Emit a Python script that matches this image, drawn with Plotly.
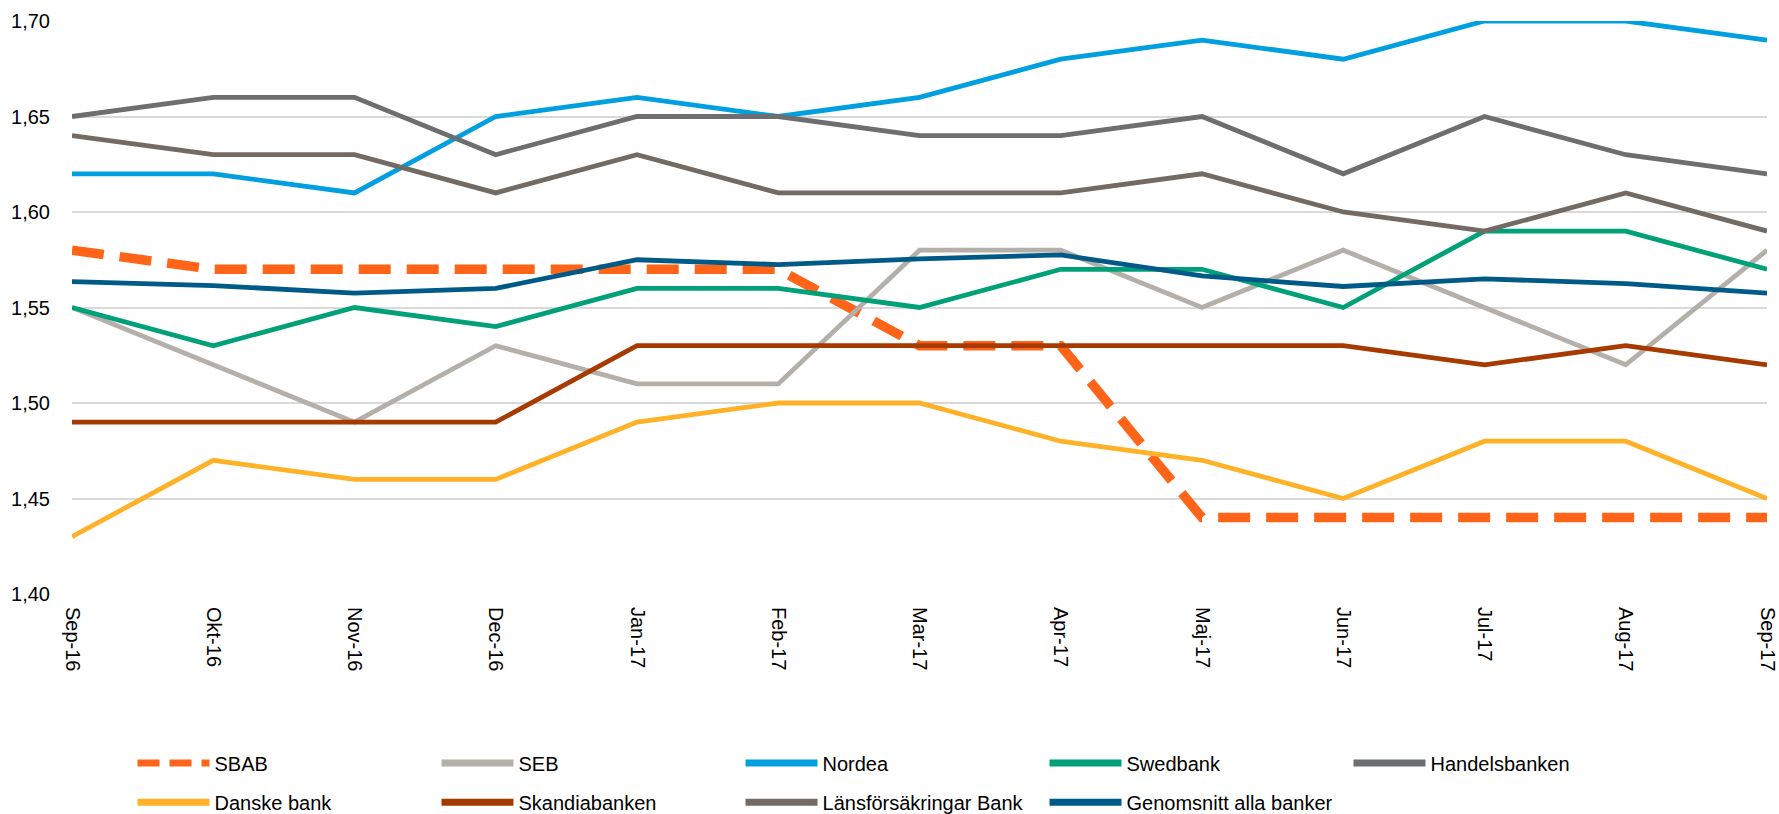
import plotly.graph_objects as go

months = ["Sep-16", "Okt-16", "Nov-16", "Dec-16", "Jan-17", "Feb-17", "Mar-17",
          "Apr-17", "Maj-17", "Jun-17", "Jul-17", "Aug-17", "Sep-17"]

sbab = [1.58, 1.57, 1.57, 1.57, 1.57, 1.57, 1.53, 1.53, 1.44, 1.44, 1.44, 1.44, 1.44]
seb = [1.55, 1.52, 1.49, 1.53, 1.51, 1.51, 1.58, 1.58, 1.55, 1.58, 1.55, 1.52, 1.58]
nordea = [1.62, 1.62, 1.61, 1.65, 1.66, 1.65, 1.66, 1.68, 1.69, 1.68, 1.70, 1.70, 1.69]
swedbank = [1.55, 1.53, 1.55, 1.54, 1.56, 1.56, 1.55, 1.57, 1.57, 1.55, 1.59, 1.59, 1.57]
handelsbanken = [1.65, 1.66, 1.66, 1.63, 1.65, 1.65, 1.64, 1.64, 1.65, 1.62, 1.65, 1.63, 1.62]
danske = [1.43, 1.47, 1.46, 1.46, 1.49, 1.50, 1.50, 1.48, 1.47, 1.45, 1.48, 1.48, 1.45]
skandia = [1.49, 1.49, 1.49, 1.49, 1.53, 1.53, 1.53, 1.53, 1.53, 1.53, 1.52, 1.53, 1.52]
lansforsakringar = [1.64, 1.63, 1.63, 1.61, 1.63, 1.61, 1.61, 1.61, 1.62, 1.60, 1.59, 1.61, 1.59]
genomsnitt = [1.5635, 1.5615, 1.5575, 1.560, 1.575, 1.5725, 1.5755, 1.5775, 1.5665,
              1.561, 1.565, 1.5625, 1.5575]

y_ticks = [1.40, 1.45, 1.50, 1.55, 1.60, 1.65, 1.70]

# name, values, colour, plot width, plot dash, legend dash, legend row
series = [
    ("SBAB", sbab, "#FF6418", 9.5, "32px,16px", "22px,10px", "legend"),
    ("SEB", seb, "#B5AFA9", 4.8, "solid", "solid", "legend"),
    ("Nordea", nordea, "#009FDF", 4.8, "solid", "solid", "legend"),
    ("Swedbank", swedbank, "#00A078", 4.8, "solid", "solid", "legend"),
    ("Handelsbanken", handelsbanken, "#6D6E70", 4.8, "solid", "solid", "legend"),
    ("Danske bank", danske, "#FFB128", 4.8, "solid", "solid", "legend2"),
    ("Skandiabanken", skandia, "#A63A00", 4.8, "solid", "solid", "legend2"),
    ("Länsförsäkringar Bank", lansforsakringar, "#736A64", 4.8, "solid", "solid", "legend2"),
    ("Genomsnitt alla banker", genomsnitt, "#005A87", 4.8, "solid", "solid", "legend2"),
]

FONT = "Liberation Sans, Arial, sans-serif"

fig = go.Figure()
for name, vals, color, w, dash, ldash, leg in series:
    fig.add_trace(go.Scatter(
        x=months, y=vals, name=name, mode="lines",
        line=dict(color=color, width=w, dash=dash),
        cliponaxis=False, showlegend=False, hoverinfo="x+y+name",
    ))
# legend entries (thicker key lines, as in the original legend)
for name, vals, color, w, dash, ldash, leg in series:
    fig.add_trace(go.Scatter(
        x=[None], y=[None], name=name, mode="lines",
        line=dict(color=color, width=7, dash=ldash),
        showlegend=True, legend=leg, hoverinfo="skip",
    ))

legend_common = dict(
    orientation="h", xanchor="left", yanchor="middle",
    entrywidth=217, entrywidthmode="pixels", itemwidth=72,
    font=dict(family=FONT, size=20, color="#000000"),
    tracegroupgap=0, bgcolor="rgba(0,0,0,0)",
)

fig.update_layout(
    width=1779, height=814,
    margin=dict(l=72, r=12, t=21, b=220, autoexpand=False),
    paper_bgcolor="white", plot_bgcolor="white",
    separators=",.",
    font=dict(family=FONT, size=20, color="#000000"),
    showlegend=True,
    legend=dict(x=0.0357, y=-0.2948, **legend_common),
    legend2=dict(x=0.0357, y=-0.3633, **legend_common),
    xaxis=dict(
        type="category", range=[0, 12], showgrid=False, zeroline=False,
        showline=False, ticks="", tickangle=90, automargin=False,
        ticklabelstandoff=12,
        tickfont=dict(family=FONT, size=20, color="#000000"),
    ),
    yaxis=dict(
        range=[1.40, 1.70], tickvals=y_ticks, tickformat=".2f",
        showgrid=True, gridcolor="#D9D9D9", gridwidth=1.5, automargin=False,
        zeroline=False, showline=False, ticks="", ticklabelstandoff=21,
        tickfont=dict(family=FONT, size=20, color="#000000"),
    ),
)

fig.write_html("out.html", config={"displayModeBar": False},
               post_script="document.body.style.margin='0';")
